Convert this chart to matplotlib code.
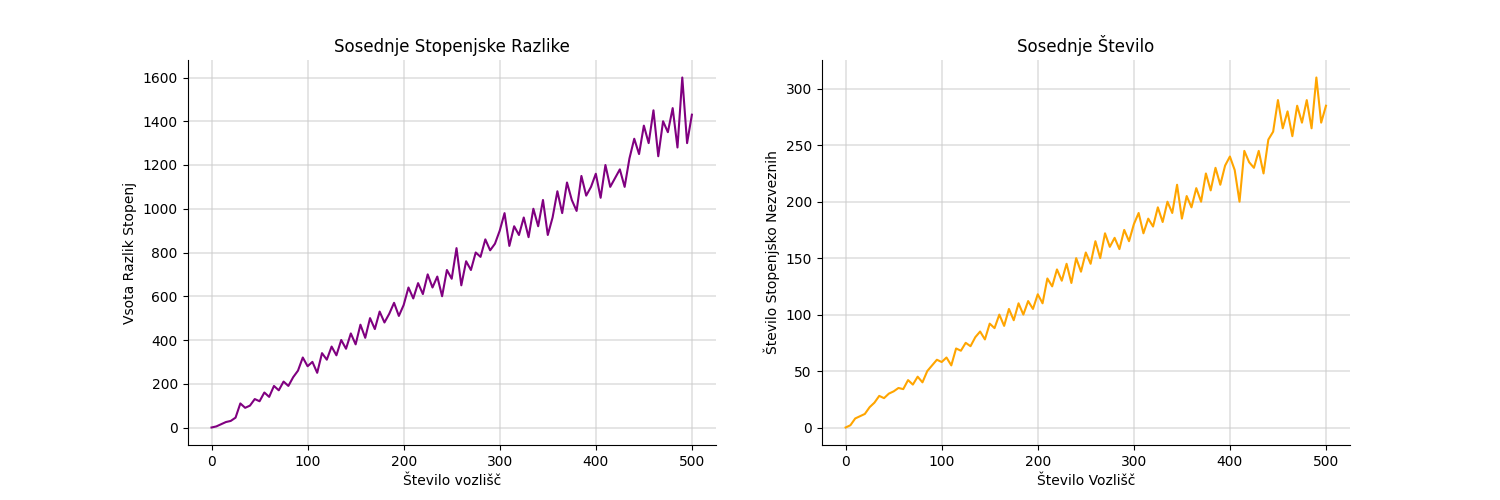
import numpy as np
from matplotlib import pyplot as plt

nodes = np.arange(0, 505, 5)
deg_diff = [0, 5, 15, 25, 30, 45, 110, 90, 100, 130, 120, 160, 140, 190, 170, 210, 190, 230, 260, 320,
            280, 300, 250, 340, 310, 370, 330, 400, 360, 430, 380, 470, 410, 500, 450, 530, 480, 520, 570, 510,
            560, 640, 590, 660, 610, 700, 640, 690, 600, 720, 680, 820, 650, 760, 720, 800, 780, 860, 810, 840,
            900, 980, 830, 920, 880, 960, 870, 1000, 920, 1040, 880, 960, 1080, 980, 1120, 1040, 990, 1150, 1060, 1100,
            1160, 1050, 1200, 1100, 1140, 1180, 1100, 1230, 1320, 1250, 1380, 1300, 1450, 1240, 1400, 1350, 1460, 1280, 1600, 1300,
            1430]
nonadj = [0, 2, 8, 10, 12, 18, 22, 28, 26, 30, 32, 35, 34, 42, 38, 45, 40, 50, 55, 60,
          58, 62, 55, 70, 68, 75, 72, 80, 85, 78, 92, 88, 100, 90, 105, 95, 110, 100, 112, 105,
          118, 110, 132, 125, 140, 130, 145, 128, 150, 138, 155, 145, 165, 150, 172, 160, 168, 158, 175, 165,
          180, 190, 172, 185, 178, 195, 182, 200, 190, 215, 185, 205, 195, 212, 200, 225, 210, 230, 215, 232,
          240, 228, 200, 245, 235, 230, 245, 225, 255, 262, 290, 265, 280, 258, 285, 270, 290, 265, 310, 270,
          285]

fig, (ax1, ax2) = plt.subplots(1, 2, figsize=(15, 5), dpi=100)
fig.subplots_adjust(left=0.125, right=0.9, top=0.88, bottom=0.11, wspace=0.2)

ax1.plot(nodes, deg_diff, color='purple', lw=1.5)
ax1.set_title('Sosednje Stopenjske Razlike', fontsize=12)
ax1.set_xlabel('Število vozlišč')
ax1.set_ylabel('Vsota Razlik Stopenj')

ax2.plot(nodes, nonadj, color='orange', lw=1.5)
ax2.set_title('Sosednje Število', fontsize=12)
ax2.set_xlabel('Število Vozlišč')
ax2.set_ylabel('Število Stopenjsko Nezveznih')

for ax in (ax1, ax2):
    ax.grid(True, color='#cccccc', alpha=0.6, lw=1.2)
    ax.spines['top'].set_visible(False)
    ax.spines['right'].set_visible(False)
    ax.set_xticks([0, 100, 200, 300, 400, 500])

fig.savefig('out.png')
